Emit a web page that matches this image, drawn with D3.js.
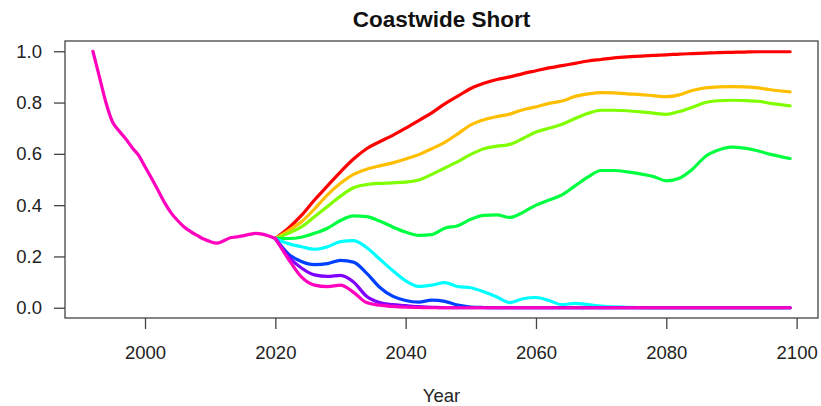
<!DOCTYPE html>
<html>
<head>
<meta charset="utf-8">
<script src="https://cdn.jsdelivr.net/npm/d3@7"></script>
<style>
  body { margin: 0; background: #fff; }
  svg { font-family: "Liberation Sans", Arial, sans-serif; }
  .tick line { stroke: #444; stroke-width: 1.3px; }
  .tick text { fill: #222; font-size: 18.5px; }
</style>
</head>
<body>
<div id="chart"></div>
<script>
// historical trajectory (annual)
var histYears = [1992,1993,1994,1995,1996,1997,1998,1999,2000,2001,2002,2003,2004,2005,2006,
  2007,2008,2009,2010,2011,2012,2013,2014,2015,2016,2017,2018,2019,2020];
var histValues = [1.00,0.90,0.80,0.725,0.69,0.66,0.625,0.595,0.55,0.505,0.458,0.41,0.37,0.34,0.315,
  0.297,0.282,0.268,0.258,0.252,0.26,0.272,0.276,0.28,0.286,0.29,0.287,0.28,0.27];

// projections
var projYears = [2020,2022,2024,2026,2028,2030,2032,2034,2036,2038,
  2040,2042,2044,2046,2048,2050,2052,2054,2056,2058,
  2060,2062,2064,2066,2068,2070,2072,2074,2076,2078,
  2080,2082,2084,2086,2088,2090,2092,2094,2096,2099];

var redValues = [0.27,0.31,0.36,0.42,0.475,0.53,0.58,0.62,0.647,0.672,
  0.70,0.73,0.76,0.795,0.825,0.855,0.875,0.89,0.90,0.913,
  0.924,0.935,0.944,0.953,0.962,0.968,0.974,0.978,0.981,0.984,
  0.986,0.989,0.991,0.993,0.995,0.996,0.997,0.998,0.998,0.998];
var orangeValues = [0.27,0.30,0.335,0.385,0.44,0.485,0.52,0.54,0.553,0.565,
  0.58,0.597,0.62,0.645,0.678,0.713,0.733,0.745,0.755,0.772,
  0.783,0.797,0.806,0.824,0.834,0.839,0.838,0.834,0.831,0.827,
  0.823,0.83,0.847,0.857,0.861,0.862,0.861,0.857,0.85,0.842];
var limeValues = [0.27,0.29,0.315,0.355,0.395,0.435,0.468,0.48,0.485,0.487,
  0.49,0.498,0.52,0.545,0.57,0.598,0.62,0.63,0.637,0.66,
  0.685,0.70,0.715,0.738,0.758,0.77,0.77,0.768,0.764,0.759,
  0.754,0.765,0.782,0.80,0.807,0.809,0.808,0.805,0.797,0.787];
var greenValues = [0.27,0.27,0.275,0.29,0.31,0.34,0.358,0.355,0.338,0.315,
  0.295,0.282,0.285,0.31,0.32,0.345,0.36,0.362,0.352,0.372,
  0.40,0.42,0.44,0.475,0.51,0.535,0.535,0.53,0.522,0.512,
  0.495,0.505,0.54,0.59,0.615,0.626,0.622,0.612,0.598,0.582];
var cyanValues = [0.27,0.25,0.238,0.228,0.238,0.258,0.262,0.235,0.19,0.145,
  0.105,0.083,0.088,0.098,0.083,0.078,0.062,0.042,0.02,0.035,
  0.04,0.028,0.012,0.017,0.012,0.006,0.003,0.002,0.001,0,
  0,0,0,0,0,0,0,0,0,0];
var blueValues = [0.27,0.21,0.18,0.168,0.172,0.185,0.178,0.135,0.08,0.045,
  0.028,0.022,0.03,0.025,0.01,0.003,0.001,0,0,0,
  0,0,0,0,0,0,0,0,0,0,
  0,0,0,0,0,0,0,0,0,0];
var purpleValues = [0.27,0.20,0.155,0.128,0.122,0.126,0.10,0.045,0.02,0.012,
  0.008,0.004,0.002,0,0,0,0,0,0,0,
  0,0,0,0,0,0,0,0,0,0,
  0,0,0,0,0,0,0,0,0,0];
var magentaValues = [0.27,0.19,0.12,0.088,0.082,0.088,0.06,0.02,0.01,0.005,
  0.002,0.001,0,0,0,0,0,0,0,0,
  0,0,0,0,0,0,0,0,0,0,
  0,0,0,0,0,0,0,0,0,0];

var seriesValues = [redValues, orangeValues, limeValues, greenValues,
  cyanValues, blueValues, purpleValues, magentaValues];
var seriesColors = ["#FF0000","#FFBF00","#80FF00","#00FF40","#00FFFF","#0040FF","#8000FF","#FF00BF"];
var histColor = "#FF00BF";

var xTicks = [2000, 2020, 2040, 2060, 2080, 2100];
var yTicks = [0, 0.2, 0.4, 0.6, 0.8, 1.0];

/**
 * sizes
 */
var W = 821, H = 406;
var plot = { left: 65, right: 818, top: 41, bottom: 318 };

var svg = d3.select("#chart")
  .append("svg")
  .attr("width", W)
  .attr("height", H);

// R style 4% padding on the data range
var x = d3.scaleLinear()
  .domain([1987.72, 2103.28])
  .range([plot.left, plot.right]);

var y = d3.scaleLinear()
  .domain([-0.04, 1.04])
  .range([plot.bottom, plot.top]);

var line = d3.line()
  .x(d => x(d[0]))
  .y(d => y(d[1]))
  .curve(d3.curveMonotoneX);

var lines = svg.append("g");

seriesValues.forEach(function(vals, k) {
  lines.append("path")
    .datum(projYears.map((yr, i) => [yr, vals[i]]))
    .attr("d", line)
    .attr("fill", "none")
    .attr("stroke", seriesColors[k])
    .attr("stroke-width", 3.2)
    .attr("stroke-linejoin", "round")
    .attr("stroke-linecap", "round");
});

lines.append("path")
  .datum(histYears.map((yr, i) => [yr, histValues[i]]))
  .attr("d", line)
  .attr("fill", "none")
  .attr("stroke", histColor)
  .attr("stroke-width", 3.2)
  .attr("stroke-linejoin", "round")
  .attr("stroke-linecap", "round");

/**
 * axes + box
 */
var xAxis = svg.append("g")
  .attr("transform", "translate(0," + plot.bottom + ")")
  .call(d3.axisBottom(x).tickValues(xTicks).tickFormat(d3.format("d"))
    .tickSize(11).tickSizeOuter(0).tickPadding(17));
xAxis.select(".domain").remove();

var yAxis = svg.append("g")
  .attr("transform", "translate(" + plot.left + ",0)")
  .call(d3.axisLeft(y).tickValues(yTicks).tickFormat(d3.format(".1f"))
    .tickSize(11).tickSizeOuter(0).tickPadding(12));
yAxis.select(".domain").remove();

svg.append("rect")
  .attr("x", plot.left)
  .attr("y", plot.top)
  .attr("width", plot.right - plot.left)
  .attr("height", plot.bottom - plot.top)
  .attr("fill", "none")
  .attr("stroke", "#444")
  .attr("stroke-width", 1.3);

svg.append("text")
  .attr("x", (plot.left + plot.right) / 2)
  .attr("y", 27)
  .attr("text-anchor", "middle")
  .style("font-size", "22.5px")
  .style("font-weight", "bold")
  .style("fill", "#111")
  .text("Coastwide Short");

svg.append("text")
  .attr("x", (plot.left + plot.right) / 2)
  .attr("y", 402)
  .attr("text-anchor", "middle")
  .style("font-size", "18.5px")
  .style("fill", "#222")
  .text("Year");
</script>
</body>
</html>
